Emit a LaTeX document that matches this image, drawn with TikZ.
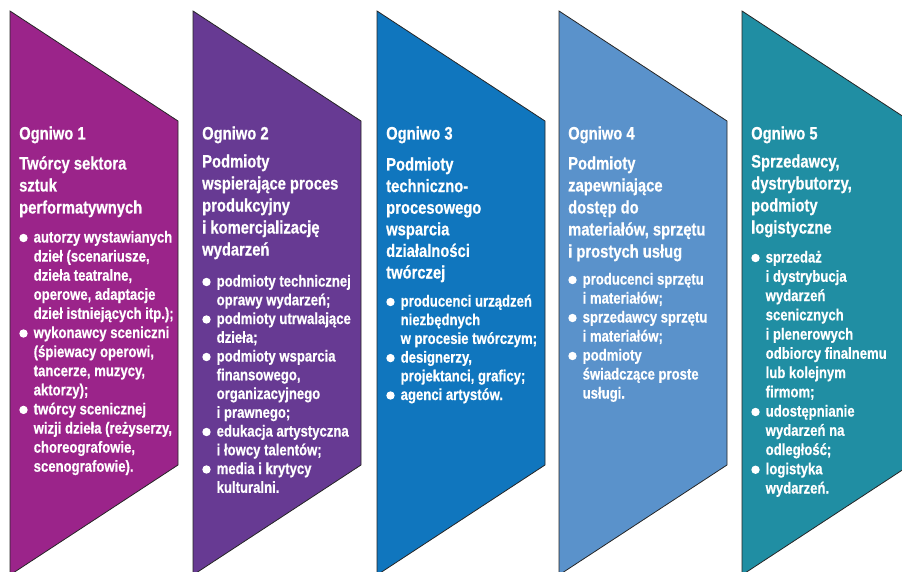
\documentclass[tikz,border=0pt]{standalone}
\usepackage{fontspec}
\setmainfont{Liberation Sans}[FakeStretch=0.82, BoldFeatures={FakeBold=0.6}]
\definecolor{cA}{RGB}{155,36,138}
\definecolor{cB}{RGB}{103,58,147}
\definecolor{cC}{RGB}{16,118,190}
\definecolor{cD}{RGB}{90,146,203}
\definecolor{cE}{RGB}{32,142,163}
\tikzset{
 chev/.style={draw=black!85, line width=0.8pt},
 lbl/.style={anchor=base west, inner sep=0pt, text=white, font=\fontsize{18}{22}\selectfont\bfseries},
 bod/.style={anchor=base west, inner sep=0pt, text=white, font=\fontsize{16}{19}\selectfont\bfseries},
 dot/.style={circle, fill=white, inner sep=0pt, minimum size=8.4pt},
}
% chevron: x0, colour
\newcommand\chevshape[2]{\draw[chev, fill=#2] (#1,11) -- ++(168,110) -- ++(0,344) -- ++(-168,110) -- cycle;}
% title lines: name, x0, first baseline, step, list
\newcommand\ttllines[5]{\foreach \t [count=\i from 0] in {#5} \node[lbl] (#1-\i) at ({#2+9},{#3+#4*\i}) {\t};}
% bullet item: name, x0, first baseline, step, list
\newcommand\bltitem[5]{\node[dot] (#1) at ({#2+13.5},{#3-4.5}) {};
 \foreach \t [count=\i from 0] in {#5} \node[bod] (#1-\i) at ({#2+23.5},{#3+#4*\i}) {\t};}
\begin{document}
\begin{tikzpicture}[x=1pt,y=-1pt]
\useasboundingbox (0,0) rectangle (902,572);
\clip (0,0) rectangle (902,572);
\chevshape{10}{cA}
\chevshape{193}{cB}
\chevshape{377}{cC}
\chevshape{559}{cD}
\chevshape{742}{cE}
% ---- 1
\node[lbl] (o1) at (19,139.5) {Ogniwo 1};
\ttllines{t1}{10}{169.5}{22}{{Twórcy sektora},{sztuk},{performatywnych}}
\bltitem{a1}{10}{242.5}{19.1}{{autorzy wystawianych},{dzieł (scenariusze,},{dzieła teatralne,},{operowe, adaptacje},{dzieł istniejących itp.);}}
\bltitem{a2}{10}{338}{19.1}{{wykonawcy sceniczni},{(śpiewacy operowi,},{tancerze, muzycy,},{aktorzy);}}
\bltitem{a3}{10}{414.4}{19.1}{{twórcy scenicznej},{wizji dzieła (reżyserzy,},{choreografowie,},{scenografowie).}}
% ---- 2
\node[lbl] (o2) at (202,139.5) {Ogniwo 2};
\ttllines{t2}{193}{167.5}{22}{{Podmioty},{wspierające proces},{produkcyjny},{i komercjalizację},{wydarzeń}}
\bltitem{b1}{193}{286.5}{18.75}{{podmioty technicznej},{oprawy wydarzeń;}}
\bltitem{b2}{193}{324}{18.75}{{podmioty utrwalające},{dzieła;}}
\bltitem{b3}{193}{361.5}{18.75}{{podmioty wsparcia},{finansowego,},{organizacyjnego},{i prawnego;}}
\bltitem{b4}{193}{436.5}{18.75}{{edukacja artystyczna},{i łowcy talentów;}}
\bltitem{b5}{193}{474}{18.75}{{media i krytycy},{kulturalni.}}
% ---- 3
\node[lbl] (o3) at (386,139.5) {Ogniwo 3};
\ttllines{t3}{377}{170.5}{21.6}{{Podmioty},{techniczno-},{procesowego},{wsparcia},{działalności},{twórczej}}
\bltitem{c1}{377}{306.5}{18.7}{{producenci urządzeń},{niezbędnych},{w procesie twórczym;}}
\bltitem{c2}{377}{362.6}{18.7}{{designerzy,},{projektanci, graficy;}}
\bltitem{c3}{377}{400}{18.7}{{agenci artystów.}}
% ---- 4
\node[lbl] (o4) at (568,139.5) {Ogniwo 4};
\ttllines{t4}{559}{169.5}{22}{{Podmioty},{zapewniające},{dostęp do},{materiałów, sprzętu},{i prostych usług}}
\bltitem{d1}{559}{284.5}{19}{{producenci sprzętu},{i materiałów;}}
\bltitem{d2}{559}{322.5}{19}{{sprzedawcy sprzętu},{i materiałów;}}
\bltitem{d3}{559}{360.5}{19}{{podmioty},{świadczące proste},{usługi.}}
% ---- 5
\node[lbl] (o5) at (751,139.5) {Ogniwo 5};
\ttllines{t5}{742}{167.5}{22}{{Sprzedawcy,},{dystrybutorzy,},{podmioty},{logistyczne}}
\bltitem{e1}{742}{262.5}{19.25}{{sprzedaż},{i dystrybucja},{wydarzeń},{scenicznych},{i plenerowych},{odbiorcy finalnemu},{lub kolejnym},{firmom;}}
\bltitem{e2}{742}{416.5}{19.25}{{udostępnianie},{wydarzeń na},{odległość;}}
\bltitem{e3}{742}{474.25}{19.25}{{logistyka},{wydarzeń.}}
\end{tikzpicture}
\end{document}
